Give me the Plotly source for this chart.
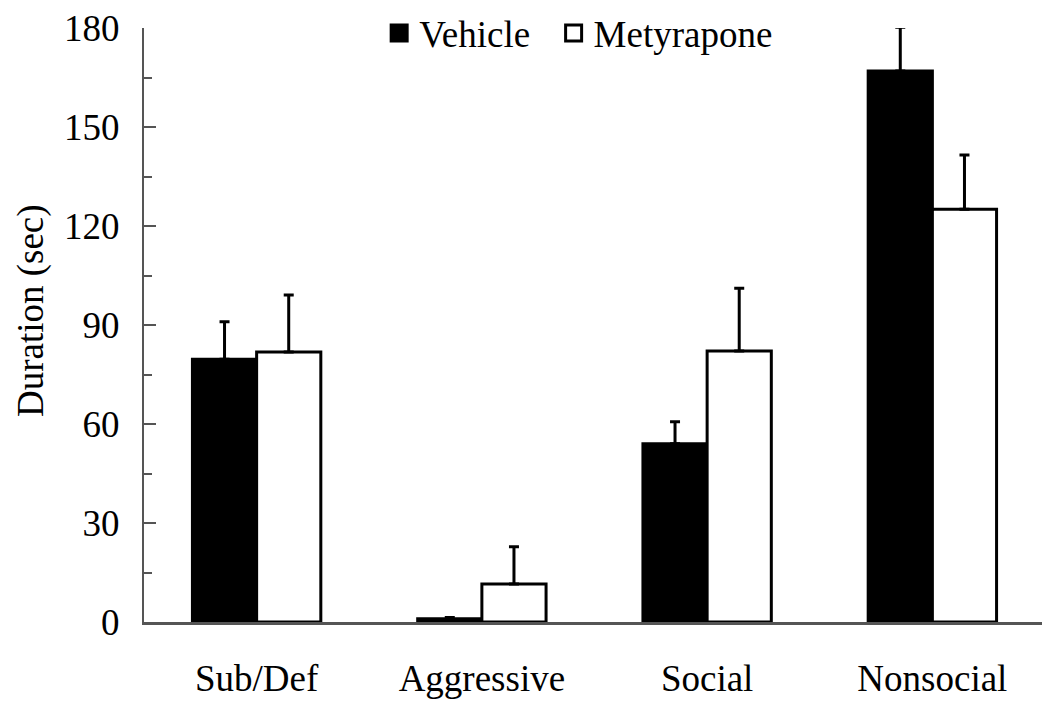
import plotly.graph_objects as go

categories = ["Sub/Def", "Aggressive", "Social", "Nonsocial"]
vehicle_mean = [79.6, 1.0, 54.0, 167.0]
vehicle_sem = [11.4, 0.4, 6.7, 13.2]
metyrapone_mean = [81.8, 11.5, 82.1, 125.1]
metyrapone_sem = [17.3, 11.3, 19.0, 16.4]
y_ticks = [0, 30, 60, 90, 120, 150, 180]

FONT = "Liberation Serif, Times New Roman, serif"

fig = go.Figure()
fig.add_trace(go.Bar(
    x=categories, y=vehicle_mean, name="Vehicle", showlegend=False,
    marker=dict(color="black", line=dict(color="black", width=3)),
    error_y=dict(type="data", array=vehicle_sem, arrayminus=[0]*4,
                 color="black", thickness=3, width=5),
))
fig.add_trace(go.Bar(
    x=categories, y=metyrapone_mean, name="Metyrapone", showlegend=False,
    marker=dict(color="white", line=dict(color="black", width=3)),
    error_y=dict(type="data", array=metyrapone_sem, arrayminus=[0]*4,
                 color="black", thickness=3, width=5),
))
# legend entries
fig.add_trace(go.Scatter(x=[None], y=[None], mode="markers", name="Vehicle\u00a0\u00a0",
                         marker=dict(symbol="square", size=16, color="black",
                                     line=dict(color="black", width=3))))
fig.add_trace(go.Scatter(x=[None], y=[None], mode="markers", name="Metyrapone",
                         marker=dict(symbol="square", size=16, color="white",
                                     line=dict(color="black", width=3))))

fig.update_layout(
    width=1042, height=701,
    margin=dict(l=136, r=5, t=20, b=87, autoexpand=False),
    paper_bgcolor="white", plot_bgcolor="white",
    barmode="group", bargap=0.43, bargroupgap=0,
    font=dict(family=FONT, size=37, color="black"),
    legend=dict(orientation="h", x=0.261, xanchor="left", y=1.043, yanchor="top",
                bgcolor="rgba(0,0,0,0)", font=dict(size=37), itemwidth=30,
                tracegroupgap=0),
    showlegend=True,
    annotations=[dict(text="Duration (sec)", textangle=-90, xref="paper", yref="paper",
                      x=-0.1255, y=0.525, xanchor="center", yanchor="middle",
                      showarrow=False, borderpad=0, font=dict(size=37))],
)
fig.update_yaxes(
    range=[0, 180], tickvals=y_ticks, ticks="inside", ticklen=12, tickwidth=2,
    tickcolor="#555", showline=True, linecolor="#555", linewidth=2,
    showgrid=False, zeroline=False, ticklabelstandoff=15, automargin=False,
    ticklabeloverflow="allow",
    minor=dict(dtick=15, ticks="inside", ticklen=8, tickwidth=2, tickcolor="#555"),
)
fig.update_xaxes(
    showline=True, linecolor="#555", linewidth=3, ticks="", showgrid=False,
    ticklabelstandoff=22, automargin=False,
)

fig.write_html("out.html")
